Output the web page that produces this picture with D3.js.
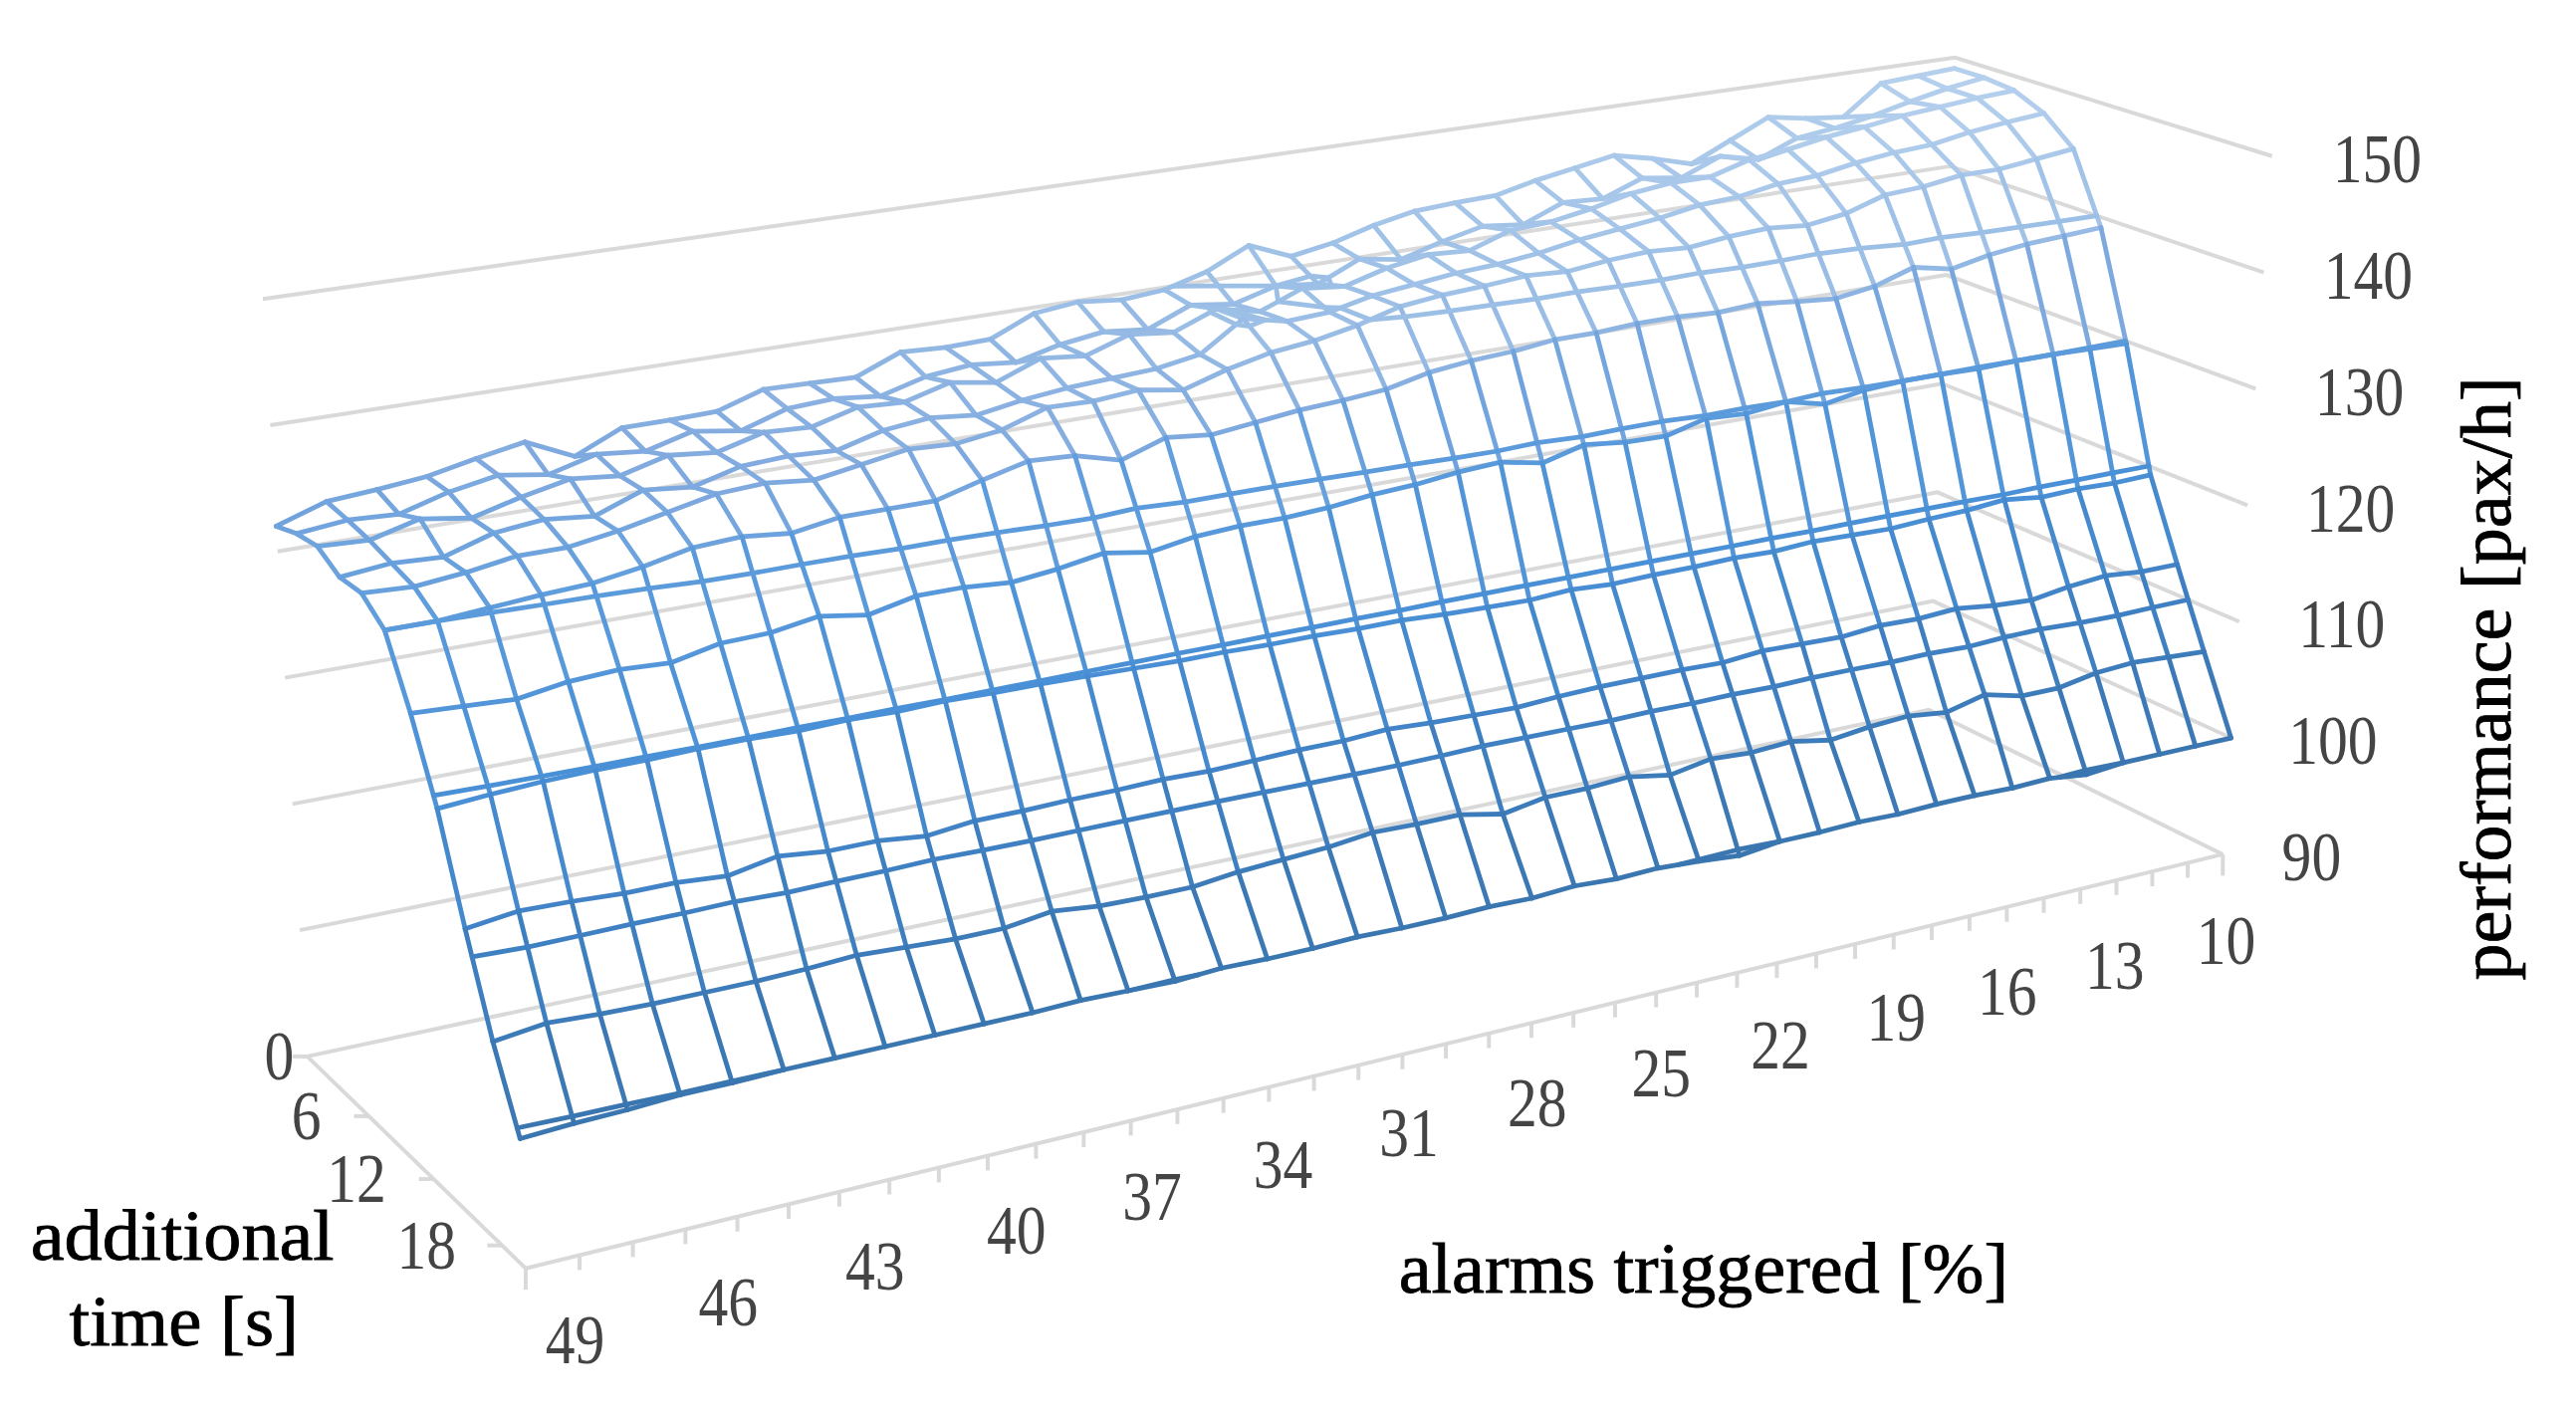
<!DOCTYPE html>
<html>
<head>
<meta charset="utf-8">
<script src="https://cdn.jsdelivr.net/npm/d3@7"></script>
<style>
  html, body { margin: 0; background: #fff; }
  svg { display: block; filter: blur(.6px); }
  text { font-family: "Liberation Serif", serif; }
</style>
</head>
<body>
<div id="viz"></div>
<script>
// x axis, 49 down to 10, one column per percent
var alarms = d3.range(49, 9, -1);
var times = [0, 2, 4, 6, 8, 10, 12, 14, 16, 18, 20];
var alarmLabels = [49, 46, 43, 40, 37, 34, 31, 28, 25, 22, 19, 16, 13, 10];
var timeLabels = [0, 6, 12, 18];
var perfLabels = [90, 100, 110, 120, 130, 140, 150];
var contourLevels = [100, 110, 120, 130, 140, 150];

// performance per additional time
var t0  = [132,133.3,133.6,134,134.8,135.5,133.7,135.4,135.4,135.5,136.7,136.6,136.5,138,137.8,137.9,139.5,139.9,139.5,139.8,140.8,142.5,141,141.6,142.6,143.3,143.5,143.6,144.4,145,145.6,144.8,143.8,145.4,147,146.4,146,148.6,148.8,149];
var t2  = [132.6,133,132.8,133.9,134.6,134,135,134.6,135.6,135,136.2,136.4,136,137,137.4,137,137.9,138.4,138,139.5,139,140,139.6,141.2,140.6,141.6,142.4,142,143.4,143.2,144.5,144,145.4,144.6,146,146.4,147,147.8,148.5,149];
var t4  = [132.8,132.6,133.6,133,134,134.8,134.4,135.4,135,136,135.8,136.8,136.6,137.6,137,138.4,138,139.2,138.8,140.2,139.4,140.8,140.4,141.4,142,141.8,143,143.2,143.8,144.6,145,145,146,146.4,147,147.4,147.9,148.2,148.5,148.7];
var t6  = [131.6,132,131.8,133,133.4,133,134.4,134,135,135.2,135,136,136.4,136,136.6,137,137.2,137.4,138,140.4,139.6,139.8,140.6,141,141.4,141.6,142,142.6,143,143.4,144,144.2,144.8,145,145.6,146,146.2,146.8,147.2,147.5];
var t8  = [131.6,131.4,131.8,132.4,132.4,133,133.8,134.6,134.8,134.4,135,135.6,135.4,135.9,137.1,137,137.3,136.7,137.8,138.6,139,139.7,140.7,141.1,141.3,141.6,141.4,141.8,142,141.8,142.2,142.4,142.1,142.6,143.7,143.9,144.4,144.4,144.8,145.2];
var t10 = [130,130,130.3,130.6,130.8,131.4,132.2,132.4,132,132.6,132.6,132.6,133.6,134.5,134.3,133.3,134.5,134.1,134.5,134.9,135.1,135.4,136.2,136.6,136.8,137.2,137.2,137.4,137.4,137.2,137.4,137,136.7,137.2,138.3,137.6,138.3,138.7,138.9,139.1];
var t12 = [125,124.8,124.6,125.2,125.4,125.2,126,126.1,126.7,126.1,126.9,126.9,126.6,127,127.6,127,127.6,127.8,127.8,128,128.4,128.6,129,129.2,128.5,129.4,129,128.9,129.8,129.6,130,129.2,129.8,130,130,129.9,130,130,129.9,129.8];
var t14 = [119.2,119.5,119.7,119.8,119.8,119.9,119.9,119.8,119.9,119.8,119.9,119.8,119.8,119.7,119.6,119.5,119.5,119.4,119.4,119.3,119.3,119.1,119,118.9,119.1,118.9,119,119,119.1,119,119.2,119.1,119,119.2,119.3,119.6,119.2,119.3,119.2,119.3];
var t16 = [111.7,112.2,112.1,111.9,111.9,111.6,112.3,111.9,111.9,111.5,111.9,111.9,112,112,112.1,112,112.1,112.2,112.2,112.4,112.2,112.1,112,112.2,112.3,112.3,112.3,112.2,112.5,112.4,112.3,112.6,112.5,112.7,112.3,112.1,112.6,112.9,112.6,112.6];
var t18 = [104.9,105.4,105.2,105.1,105.1,105.1,105.2,105.4,105.2,105,105,105.5,105.1,105,105,105.4,105.6,105.8,106.2,106.1,106.1,105.4,106,106,106.2,105.6,106.2,106,106.2,105.6,106,106.2,105.8,106.6,105.8,105.8,106.4,106.6,106.4,106.2];
var t20 = [99.4,99.6,99.7,99.9,99.9,100,100,100,100,100,100,100.1,100,99.9,100.1,100,100,100.1,100,100,100.1,100,100.2,100,100.1,99.9,99.6,100,100,100.1,100,100.1,100.1,100,100.1,99.7,100,100,100,100];
var surface = [t0, t2, t4, t6, t8, t10, t12, t14, t16, t18, t20];

// drawing in the 1568 wide frame, viewBox takes it up to full size
var svg = d3.select("#viz").append("svg")
    .attr("width", 2587)
    .attr("height", 1425)
    .attr("viewBox", "0 0 1568 863.7");

// box corners per performance level
var backLeft   = d3.scaleLinear().domain([90, 150]).range([[187, 643], [160, 182]]);
var backRight  = d3.scaleLinear().domain([90, 150]).range([[1174, 432], [1190, 35]]);
var frontRight = d3.scaleLinear().domain([90, 150]).range([[1353, 520], [1383, 95]]);
var frontLeft  = d3.scaleLinear().domain([90, 150]).range([[320, 772], [298, 268]]);

var u = d3.scaleLinear().domain([49, 10]).range([0, 1]);
var v = d3.scaleLinear().domain([0, 20]).range([0, 1]);

// square to quad perspective mapping
function project(alarm, time, perf) {
  var p0 = backLeft(perf), p1 = backRight(perf), p2 = frontRight(perf), p3 = frontLeft(perf);
  var dx1 = p1[0] - p2[0], dx2 = p3[0] - p2[0], sx = p0[0] - p1[0] + p2[0] - p3[0];
  var dy1 = p1[1] - p2[1], dy2 = p3[1] - p2[1], sy = p0[1] - p1[1] + p2[1] - p3[1];
  var den = dx1 * dy2 - dx2 * dy1;
  var g = (sx * dy2 - dx2 * sy) / den, h = (dx1 * sy - sx * dy1) / den;
  var a = u(alarm), b = v(time), w = g * a + h * b + 1;
  return [
    ((p1[0] - p0[0] + g * p1[0]) * a + (p3[0] - p0[0] + h * p3[0]) * b + p0[0]) / w,
    ((p1[1] - p0[1] + g * p1[1]) * a + (p3[1] - p0[1] + h * p3[1]) * b + p0[1]) / w
  ];
}

var color = d3.scaleLinear()
    .domain([100, 110, 120, 130, 135, 140, 150])
    .range(["#3a76b0", "#3f80c2", "#4a90d6", "#5b9bdc", "#82abdf", "#9cbfe6", "#b8d2ee"]);

var line = d3.line();

// walls
var walls = svg.append("g")
    .attr("fill", "none")
    .attr("stroke", "#d9d9d9")
    .attr("stroke-width", 2.4);

walls.selectAll("path.level")
    .data(perfLabels)
  .enter().append("path")
    .attr("class", "level")
    .attr("d", function(d) {
      return line([project(49, 0, d), project(10, 0, d), project(10, 20, d)]);
    });

// floor edges
walls.append("path").attr("d", line([project(49, 0, 90), project(49, 20, 90), project(10, 20, 90)]));

walls.selectAll("path.atick")
    .data(alarms)
  .enter().append("path")
    .attr("class", "atick")
    .attr("d", function(d) {
      var p = project(d, 20, 90);
      var len = (d == 49 || d == 10) ? 13 : 9;
      return line([p, [p[0], p[1] + len]]);
    });

walls.selectAll("path.ttick")
    .data(timeLabels)
  .enter().append("path")
    .attr("class", "ttick")
    .attr("d", function(d) {
      var p = project(49, d, 90);
      return line([p, [p[0] - 9, p[1]]]);
    });

// mesh, one segment at a time so the colour can follow the height
var segments = [];
surface.forEach(function(row, j) {
  row.forEach(function(z, i) {
    if (i < row.length - 1) {
      segments.push([[alarms[i], times[j], z], [alarms[i + 1], times[j], row[i + 1]]]);
    }
    if (j < surface.length - 1) {
      segments.push([[alarms[i], times[j], z], [alarms[i], times[j + 1], surface[j + 1][i]]]);
    }
  });
});

// contour lines between the bands, cut back to the inside of the grid
var contours = d3.contours()
    .size([alarms.length, times.length])
    .thresholds(contourLevels)(d3.merge(surface));

contours.forEach(function(c) {
  c.coordinates.forEach(function(poly) {
    poly.forEach(function(ring) {
      d3.pairs(ring).forEach(function(pair) {
        var inside = pair.every(function(p) {
          return p[0] >= 0.5 && p[0] <= alarms.length - 0.5 && p[1] >= 0.5 && p[1] <= times.length - 0.5;
        });
        if (!inside) return;
        segments.push(pair.map(function(p) {
          return [49 - (p[0] - 0.5), (p[1] - 0.5) * 2, c.value];
        }));
      });
    });
  });
});

svg.append("g")
    .attr("fill", "none")
    .attr("stroke-width", 2.9)
    .attr("stroke-linecap", "round")
  .selectAll("path")
    .data(segments)
  .enter().append("path")
    .attr("stroke", function(d) { return color((d[0][2] + d[1][2]) / 2); })
    .attr("d", function(d) {
      return line(d.map(function(p) { return project(p[0], p[1], p[2]); }));
    });

// tick labels, squeezed a bit like in the source image
function tickLabels(cls, data, pos) {
  svg.selectAll("text." + cls)
      .data(data)
    .enter().append("text")
      .attr("class", cls)
      .attr("text-anchor", "middle")
      .attr("dy", ".33em")
      .attr("font-size", 42)
      .attr("fill", "#444")
      .attr("transform", function(d) {
        var p = pos(d);
        return "translate(" + p[0] + "," + p[1] + ") scale(.86,1)";
      })
      .text(function(d) { return d; });
}

var alarmDx = d3.scaleLinear().domain([49, 46, 40, 31, 25, 19, 13, 10]).range([30, 26, 17.5, 4, 3, 1.5, -1, 2]);
var alarmDy = d3.scaleLinear().domain([49, 10]).range([44, 53]);
tickLabels("alarm", alarmLabels, function(d) {
  var p = project(d, 20, 90);
  return [p[0] + alarmDx(d), p[1] + alarmDy(d)];
});

var timeDx = d3.scaleLinear().domain([0, 6, 12, 18]).range([-17, -38, -47, -46]);
tickLabels("time", timeLabels, function(d) {
  var p = project(49, d, 90);
  return [p[0] + timeDx(d), p[1]];
});

var perfDx = d3.scaleLinear().domain([90, 100, 150]).range([54, 62, 64]);
tickLabels("perf", perfLabels, function(d) {
  var p = project(10, 20, d);
  return [p[0] + perfDx(d), p[1] + 2];
});

// axis titles
var titles = svg.append("g")
    .attr("fill", "#000")
    .attr("stroke", "#000")
    .attr("stroke-width", .5)
    .attr("font-size", 44)
    .attr("text-anchor", "middle");

titles.append("text").attr("transform", "translate(1037,787) scale(1.02,1)").text("alarms triggered [%]");
titles.append("text").attr("transform", "translate(111,767) scale(1.05,1)").text("additional");
titles.append("text").attr("transform", "translate(112,819) scale(1.03,1)").text("time [s]");
titles.append("text").attr("transform", "translate(1528,413) rotate(-90) scale(1.02,1)").text("performance [pax/h]");
</script>
</body>
</html>
